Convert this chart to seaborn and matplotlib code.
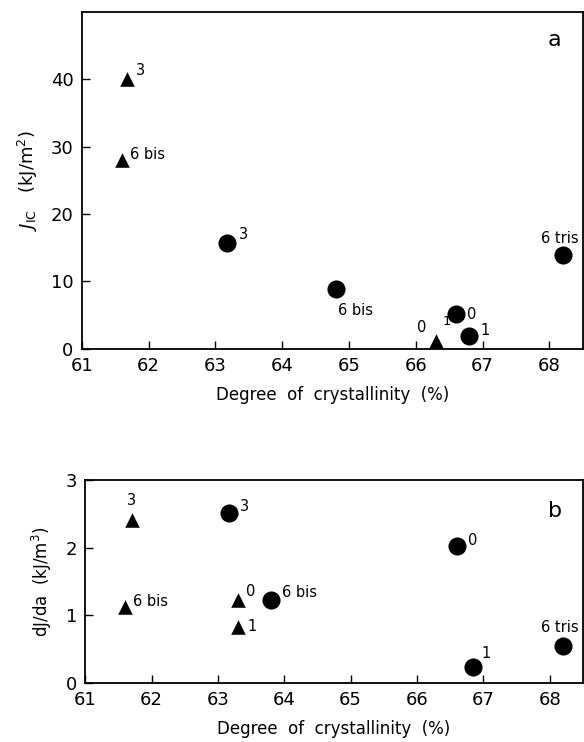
import numpy as np
import pandas as pd
import matplotlib
matplotlib.use("Agg")
import matplotlib.pyplot as plt
import seaborn as sns

sns.set_theme(style="ticks")
plt.rcParams['font.family'] = ['DejaVu Sans']
plt.rcParams['text.color'] = 'black'
plt.rcParams['axes.labelcolor'] = 'black'
plt.rcParams['xtick.color'] = 'black'
plt.rcParams['ytick.color'] = 'black'

# panel a: J_IC vs crystallinity
a_tri_x = [61.68, 61.6, 66.3]
a_tri_y = [40.0, 28.0, 1.1]
a_tri_lab = ["3", "6 bis", ""]
a_circ_x = [63.18, 64.8, 66.6, 66.8, 68.2]
a_circ_y = [15.7, 8.9, 5.1, 1.9, 13.9]
a_circ_lab = ["3", "6 bis", "0", "1", "6 tris"]

# panel b: dJ/da vs crystallinity
b_tri_x = [61.7, 61.6, 63.3, 63.3]
b_tri_y = [2.41, 1.12, 1.23, 0.83]
b_tri_lab = ["3", "6 bis", "0", "1"]
b_circ_x = [63.17, 63.8, 66.6, 66.84, 68.2]
b_circ_y = [2.52, 1.22, 2.03, 0.23, 0.54]
b_circ_lab = ["3", "6 bis", "0", "1", "6 tris"]

x_ticks = [61, 62, 63, 64, 65, 66, 67, 68]


def make_df(tx, ty, tl, cx, cy, cl):
    return pd.DataFrame({
        "x": tx + cx,
        "y": ty + cy,
        "lab": tl + cl,
        "kind": ["tri"] * len(tx) + ["circ"] * len(cx),
    })


df_a = make_df(a_tri_x, a_tri_y, a_tri_lab, a_circ_x, a_circ_y, a_circ_lab)
df_b = make_df(b_tri_x, b_tri_y, b_tri_lab, b_circ_x, b_circ_y, b_circ_lab)

fig = plt.figure(figsize=(5.84, 7.42), dpi=100)
ax1 = fig.add_axes([0.140, 0.530, 0.858, 0.454])
ax2 = fig.add_axes([0.146, 0.0795, 0.852, 0.2735])

sizes = {"tri": 110, "circ": 170}
markers = {"tri": "^", "circ": "o"}
for ax, df in [(ax1, df_a), (ax2, df_b)]:
    for k in ["tri", "circ"]:
        d = df[df["kind"] == k]
        sns.scatterplot(data=d, x="x", y="y", marker=markers[k], s=sizes[k],
                        color="black", edgecolor="black", linewidth=0,
                        legend=False, ax=ax, zorder=3)

# point labels (offsets in points)
fs = 10.5
off_a = [((6, 6), "left"), ((6, 4), "left"), None,
         ((8, 6), "left"), ((2, -16), "left"), ((8, 0), "left"),
         ((8, 4), "left"), ((-2, 12), "center")]
for (x, y, lab), o in zip(df_a[["x", "y", "lab"]].values, off_a):
    if o is None or lab == "":
        continue
    ax1.annotate(lab, (x, y), xytext=o[0], textcoords="offset points",
                 fontsize=fs, ha=o[1], va="center")
# the shared triangle at 66.3 carries "0" and "1"
ax1.annotate("0", (a_tri_x[2], a_tri_y[2]), xytext=(-10, 10),
             textcoords="offset points", fontsize=fs, ha="center", va="center")
ax1.annotate("1", (a_tri_x[2], a_tri_y[2]), xytext=(8, 14),
             textcoords="offset points", fontsize=fs - 1, ha="center", va="center")

off_b = [((0, 14), "center"), ((6, 4), "left"), ((6, 6), "left"), ((7, 0), "left"),
         ((8, 4), "left"), ((8, 6), "left"), ((8, 4), "left"), ((6, 10), "left"),
         ((-2, 14), "center")]
for (x, y, lab), o in zip(df_b[["x", "y", "lab"]].values, off_b):
    ax2.annotate(lab, (x, y), xytext=o[0], textcoords="offset points",
                 fontsize=fs, ha=o[1], va="center")

ax1.set_xlim(61, 68.5)
ax1.set_ylim(0, 50)
ax1.set_yticks([0, 10, 20, 30, 40])
ax2.set_xlim(61, 68.5)
ax2.set_ylim(0, 3)
ax2.set_yticks([0, 1, 2, 3])

for ax in (ax1, ax2):
    ax.set_xticks(x_ticks)
    ax.tick_params(direction="in", length=6, width=1, labelsize=13, pad=6)
    for s in ax.spines.values():
        s.set_linewidth(1.3)
        s.set_color("black")
    ax.set_xlabel("Degree  of  crystallinity  (%)", fontsize=12, labelpad=8)

ax1.set_ylabel(r"$J_{\rm IC}$   (kJ/m$^2$)", fontsize=13, labelpad=8)
ax2.set_ylabel(r"dJ/da  (kJ/m$^3$)", fontsize=12, labelpad=8)
ax1.text(0.93, 0.9, "a", transform=ax1.transAxes, fontsize=16)
ax2.text(0.93, 0.82, "b", transform=ax2.transAxes, fontsize=16)

fig.savefig("out.png", dpi=100)
